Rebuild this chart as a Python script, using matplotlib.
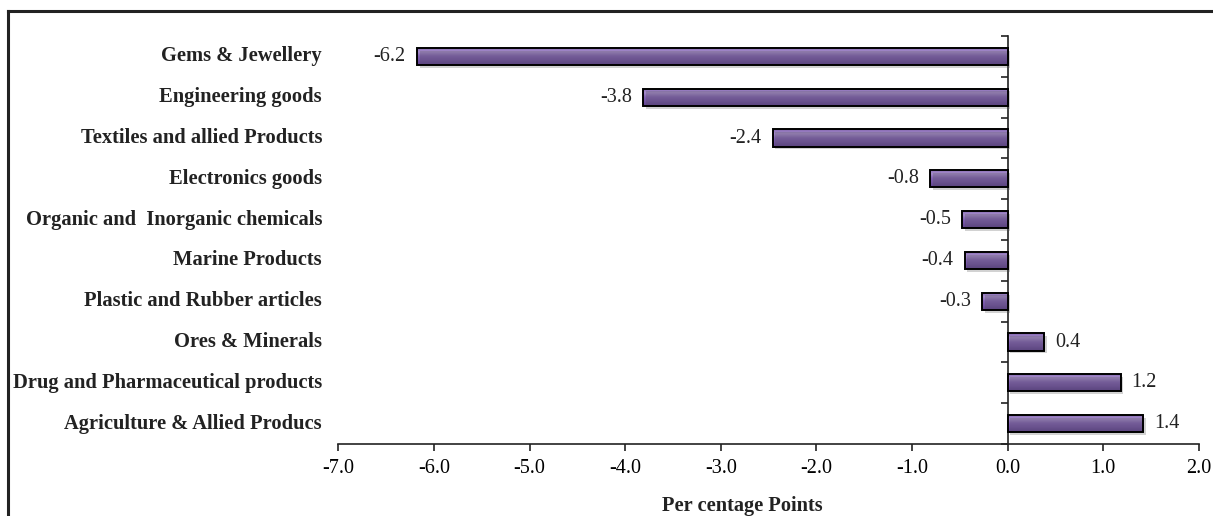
import numpy as np
import matplotlib
matplotlib.use("Agg")
import matplotlib.pyplot as plt
import matplotlib.patheffects as pe
from matplotlib.colors import LinearSegmentedColormap
from matplotlib.lines import Line2D

plt.rcParams['font.family'] = ['Liberation Serif', 'DejaVu Serif']

categories = ['Gems & Jewellery', 'Engineering goods', 'Textiles and allied Products',
              'Electronics goods', 'Organic and  Inorganic chemicals', 'Marine Products',
              'Plastic and Rubber articles', 'Ores & Minerals',
              'Drug and Pharmaceutical products', 'Agriculture & Allied Producs']
values = [-6.18, -3.81, -2.46, -0.81, -0.48, -0.45, -0.27, 0.38, 1.18, 1.42]
value_labels = ['-6.2', '-3.8', '-2.4', '-0.8', '-0.5', '-0.4', '-0.3', '0.4', '1.2', '1.4']
x_ticks = [-7.0, -6.0, -5.0, -4.0, -3.0, -2.0, -1.0, 0.0, 1.0, 2.0]

fig = plt.figure(figsize=(12.13, 5.16), dpi=100)
ax = fig.add_axes([0.279, 0.1395, 0.7094, 0.7907])

# outer frame (top and left only visible)
fig.add_artist(Line2D([8/1213, 1], [1 - 11/516] * 2, color='#222222', lw=2.2))
fig.add_artist(Line2D([8/1213] * 2, [0, 1 - 11/516], color='#222222', lw=2.2))

y = np.arange(len(categories))
bars = ax.barh(y, values, height=0.42, color='#7a5aa8', edgecolor='black', linewidth=1.4, zorder=3,
               path_effects=[pe.SimplePatchShadow(offset=(2, -2), alpha=0.25), pe.Normal()])

# gradient fill for the bevelled look
cmap = LinearSegmentedColormap.from_list('purp', ['#8466b0', '#a68dcc', '#8262b2', '#7353a3', '#5f418e'])
grad = np.linspace(0, 1, 64).reshape(-1, 1)
for b in bars:
    x0, y0, w, h = b.get_x(), b.get_y(), b.get_width(), b.get_height()
    im = ax.imshow(grad, cmap=cmap, aspect='auto', zorder=3.5, interpolation='bilinear',
                   extent=[min(x0, x0 + w), max(x0, x0 + w), y0 + h, y0], origin='upper')
    im.set_clip_path(b)
    b.set_facecolor('none')
    b.set_zorder(4)

ax.set_xlim(-7, 2)
ax.set_ylim(len(categories) - 0.5, -0.5)

ax.spines['left'].set_position(('data', 0))
ax.spines['right'].set_visible(False)
ax.spines['top'].set_visible(False)
for s in ['left', 'bottom']:
    ax.spines[s].set_linewidth(1.2)
    ax.spines[s].set_color('#222222')

ax.set_yticks(np.arange(-0.5, len(categories), 1.0))
ax.set_yticklabels([])
ax.tick_params(axis='y', direction='out', length=5, width=1.2, color='#222222')
ax.set_xticks(x_ticks)
ax.set_xticklabels([f'{t:.1f}' for t in x_ticks], fontsize=14.5)
ax.tick_params(axis='x', direction='out', length=5, width=1.2, color='#222222', pad=6)

trans = ax.get_yaxis_transform()
for yi, c in zip(y, categories):
    ax.text(-0.019, yi, c, transform=trans, ha='right', va='center', fontsize=14.8,
            fontweight='bold', color='#222222')

for yi, v, lab in zip(y, values, value_labels):
    if v < 0:
        ax.annotate(lab, (v, yi), xytext=(-8, 0), textcoords='offset points', ha='right',
                    va='center', fontsize=14.5, color='#222222')
    else:
        ax.annotate(lab, (v, yi), xytext=(8, 0), textcoords='offset points', ha='left',
                    va='center', fontsize=14.5, color='#222222')

ax.set_xlabel('Per centage Points', fontsize=14.7, fontweight='bold', color='#222222')
ax.xaxis.set_label_coords(0.469, -0.128)

fig.savefig('out.png', dpi=100)
